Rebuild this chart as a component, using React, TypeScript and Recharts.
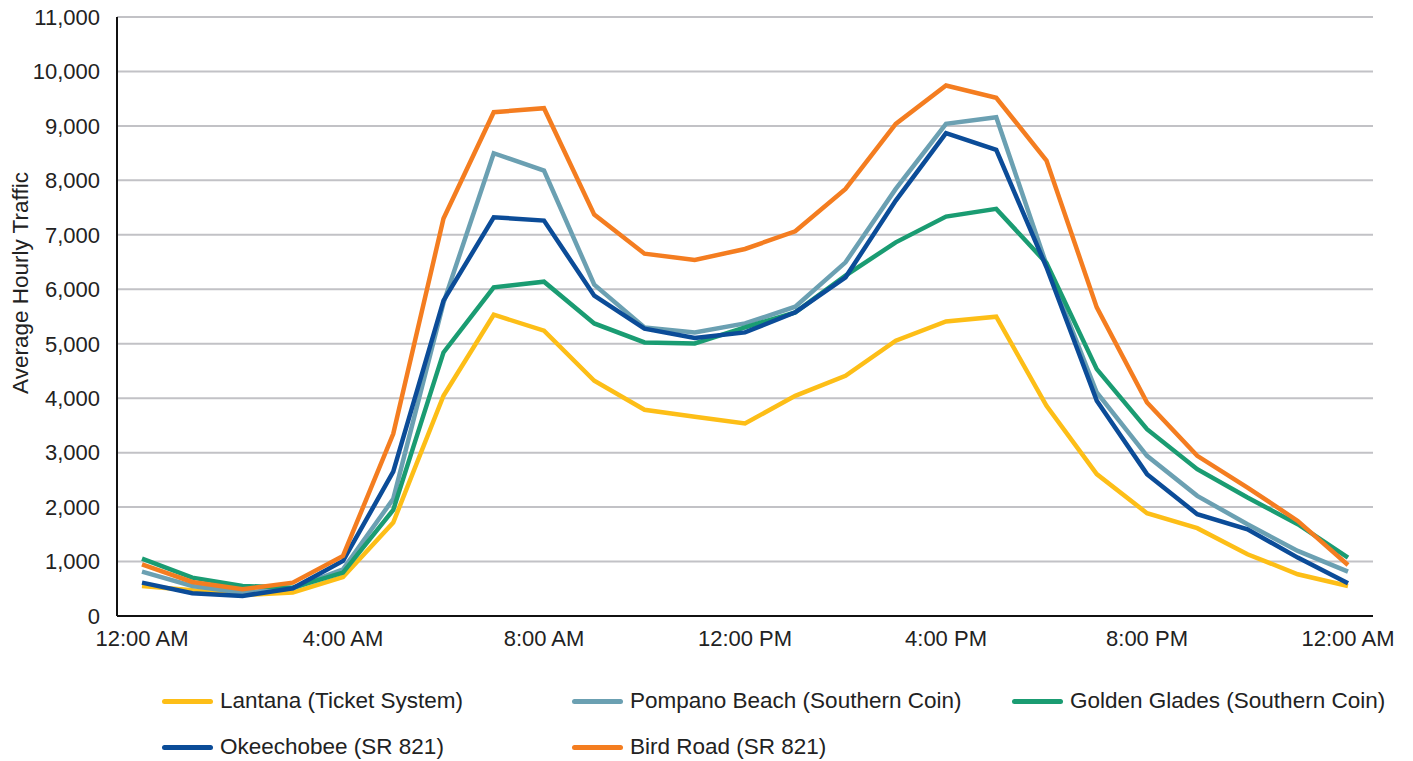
import React from 'react'
import {
  CartesianGrid,
  Label,
  Line,
  LineChart,
  XAxis,
  YAxis
} from 'recharts'

const hours = [
  '12:00 AM', '1:00 AM', '2:00 AM', '3:00 AM', '4:00 AM', '5:00 AM',
  '6:00 AM', '7:00 AM', '8:00 AM', '9:00 AM', '10:00 AM', '11:00 AM',
  '12:00 PM', '1:00 PM', '2:00 PM', '3:00 PM', '4:00 PM', '5:00 PM',
  '6:00 PM', '7:00 PM', '8:00 PM', '9:00 PM', '10:00 PM', '11:00 PM',
  '12:00 AM'
]

const lantana = [551, 472, 386, 429, 717, 1716, 4044, 5533, 5239, 4320, 3787, 3658, 3535, 4044, 4412, 5055, 5410, 5496, 3860, 2605, 1888, 1612, 1134, 767, 551]
const pompano = [815, 551, 429, 509, 858, 2150, 5750, 8498, 8180, 6085, 5300, 5208, 5373, 5680, 6495, 7843, 9038, 9160, 6450, 4105, 2941, 2206, 1685, 1195, 815]
const goldenGlades = [1054, 704, 551, 521, 796, 1950, 4840, 6035, 6140, 5373, 5024, 5006, 5300, 5576, 6250, 6862, 7335, 7476, 6480, 4534, 3431, 2696, 2175, 1685, 1072]
const okeechobee = [613, 417, 368, 509, 1011, 2650, 5790, 7322, 7261, 5882, 5276, 5104, 5208, 5576, 6219, 7629, 8866, 8560, 6403, 3952, 2605, 1869, 1593, 1072, 600]
const birdRoad = [950, 625, 490, 613, 1103, 3345, 7298, 9252, 9325, 7371, 6654, 6538, 6740, 7065, 7843, 9038, 9743, 9516, 8364, 5667, 3922, 2941, 2359, 1746, 937]

const yTicks = [0, 1000, 2000, 3000, 4000, 5000, 6000, 7000, 8000, 9000, 10000, 11000]

const series = [
  { key: 'lantana', name: 'Lantana (Ticket System)', color: '#FDBE17', values: lantana },
  { key: 'pompano', name: 'Pompano Beach (Southern Coin)', color: '#6BA0B2', values: pompano },
  { key: 'golden', name: 'Golden Glades (Southern Coin)', color: '#1A9C72', values: goldenGlades },
  { key: 'okeechobee', name: 'Okeechobee (SR 821)', color: '#0B4C98', values: okeechobee },
  { key: 'bird', name: 'Bird Road (SR 821)', color: '#F47D20', values: birdRoad }
]

const data = hours.map((hour, i) => {
  const row: Record<string, string | number> = { hour }
  series.forEach(s => { row[s.key] = s.values[i] })
  return row
})

// legend slots: column x of the swatch and row y of its center
const legendSlots = [
  { x: 162, y: 701 },
  { x: 572, y: 701 },
  { x: 1012, y: 701 },
  { x: 162, y: 747 },
  { x: 572, y: 747 }
]

const FONT = '"Liberation Sans", Arial, sans-serif'
const tickStyle = { fontSize: 22, fill: '#222', fontFamily: FONT }

function AxisTitle () {
  return (
    <text
      x={20}
      y={283}
      transform="rotate(-90 20 283)"
      textAnchor="middle"
      dominantBaseline="central"
      style={{ fontSize: 22.5, fill: '#222', fontFamily: FONT }}
    >
      Average Hourly Traffic
    </text>
  )
}

export default function App () {
  return (
    <div style={{ position: 'absolute', left: 0, top: 0, width: 1413, height: 761, background: '#fff', fontFamily: FONT }}>
      <LineChart
        width={1413}
        height={761}
        data={data}
        margin={{ top: 17, right: 40, bottom: 105, left: 0 }}
      >
        <CartesianGrid horizontal vertical={false} stroke="#C2C2C6" strokeWidth={2} />
        <XAxis
          dataKey="hour"
          interval={3}
          padding={{ left: 25, right: 25 }}
          height={40}
          tickSize={0}
          tickMargin={14}
          tick={tickStyle}
          axisLine={{ stroke: '#111', strokeWidth: 2 }}
        />
        <XAxis xAxisId="top" orientation="top" height={0} tick={false} axisLine={{ stroke: '#111', strokeWidth: 2 }} />
        <YAxis
          width={117}
          domain={[0, 11000]}
          ticks={yTicks}
          tickFormatter={(v: number) => v.toLocaleString('en-US')}
          tickSize={0}
          tickMargin={17}
          tick={tickStyle}
          axisLine={{ stroke: '#111', strokeWidth: 2 }}
        >
          <Label content={<AxisTitle />} />
        </YAxis>
        <YAxis yAxisId="right" orientation="right" width={0} tick={false} axisLine={{ stroke: '#111', strokeWidth: 2 }} />
        {series.map(s => (
          <Line
            key={s.key}
            type="linear"
            dataKey={s.key}
            name={s.name}
            stroke={s.color}
            strokeWidth={4.5}
            dot={false}
            activeDot={false}
            isAnimationActive={false}
          />
        ))}
      </LineChart>
      {series.map((s, i) => (
        <div
          key={s.key}
          style={{
            position: 'absolute',
            left: legendSlots[i].x,
            top: legendSlots[i].y - 14,
            height: 28,
            display: 'flex',
            alignItems: 'center',
            whiteSpace: 'nowrap'
          }}
        >
          <span style={{ display: 'inline-block', width: 51, height: 5, borderRadius: 3, background: s.color, marginRight: 7 }} />
          <span style={{ fontSize: 22.5, color: '#222' }}>{s.name}</span>
        </div>
      ))}
    </div>
  )
}
